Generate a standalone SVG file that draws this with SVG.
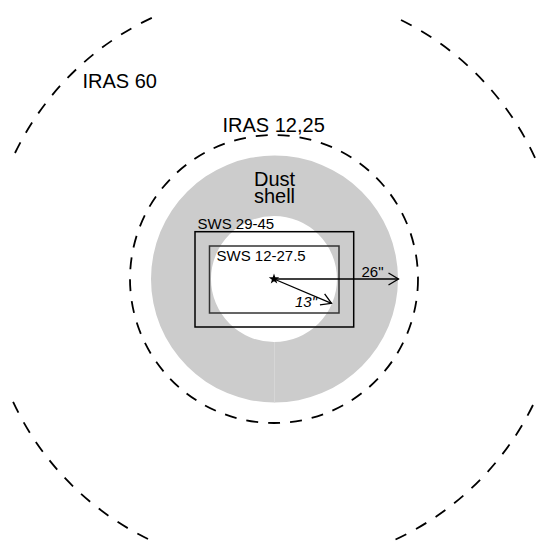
<svg xmlns="http://www.w3.org/2000/svg" width="537" height="544" viewBox="0 0 537 544">
  <style>
    .dash { fill: none; stroke: #000; stroke-width: 1.8; }
    .box { fill: none; stroke-width: 1.5; }
    .lbl { font-family: "Liberation Sans", Arial, sans-serif; fill: #000; }
    .arrow { stroke: #000; stroke-width: 1.3; fill: none; }
  </style>
  <defs>
    <marker id="open" markerUnits="userSpaceOnUse" markerWidth="14" markerHeight="14" viewBox="-12 -7 14 14" refX="0" refY="0" orient="auto">
      <path d="M-10,-6 L0,0 L-10,6" fill="none" stroke="#000" stroke-width="1.3"/>
    </marker>
  </defs>
  <rect width="537" height="544" fill="#fff"/>

  <g id="dust-shell">
    <path d="M151,279 A123.5,123.5 0 1,0 398,279 A123.5,123.5 0 1,0 151,279 Z M211,279 A63,63 0 1,1 337,279 A63,63 0 1,1 211,279 Z" fill="#cccccc" fill-rule="evenodd"/>
    <line x1="274.5" y1="342" x2="274.5" y2="402.5" stroke="#d8d8d8" stroke-width="0.8"/>
    <text class="lbl" x="274.5" y="185.5" font-size="20" text-anchor="middle">Dust</text>
    <text class="lbl" x="274.5" y="203" font-size="20" text-anchor="middle">shell</text>
  </g>

  <g id="iras60">
    <path class="dash" stroke-dasharray="12 11" d="M15,153 A288,288 0 0,1 158,15"/>
    <path class="dash" stroke-dasharray="12 11" d="M401,20 A288,288 0 0,1 536,160"/>
    <path class="dash" stroke-dasharray="12 11" d="M533,405 A288,288 0 0,1 390,542"/>
    <path class="dash" stroke-dasharray="12 11" d="M148,539 A288,288 0 0,1 10,395"/>
    <text class="lbl" x="82.5" y="88" font-size="20">IRAS 60</text>
  </g>

  <g id="iras1225">
    <circle class="dash" cx="274" cy="279" r="144" stroke-dasharray="12 10"/>
    <text class="lbl" x="222.5" y="131.5" font-size="20">IRAS 12,25</text>
  </g>

  <g id="sws2945">
    <rect class="box" x="195" y="231.7" width="158.7" height="95.3" stroke="#000"/>
    <text class="lbl" x="197.5" y="229" font-size="15">SWS 29-45</text>
  </g>

  <g id="sws12275">
    <rect class="box" x="209.5" y="246" width="129.5" height="67" stroke="#333"/>
    <text class="lbl" x="216.5" y="261" font-size="15">SWS 12-27.5</text>
  </g>

  <g id="star">
    <polygon points="274,273.5 275.29,277.22 279.23,277.3 276.09,279.68 277.23,283.45 274,281.2 270.77,283.45 271.91,279.68 268.77,277.3 272.71,277.22" fill="#000"/>
  </g>

  <g id="connectors">
    <line class="arrow" x1="274" y1="279" x2="398.5" y2="279" marker-end="url(#open)"/>
    <line class="arrow" x1="274" y1="279" x2="331.5" y2="303.3" marker-end="url(#open)"/>
    <text class="lbl" x="361.5" y="276.5" font-size="15">26"</text>
    <text class="lbl" x="295" y="307" font-size="15" font-style="italic">13"</text>
  </g>
</svg>
